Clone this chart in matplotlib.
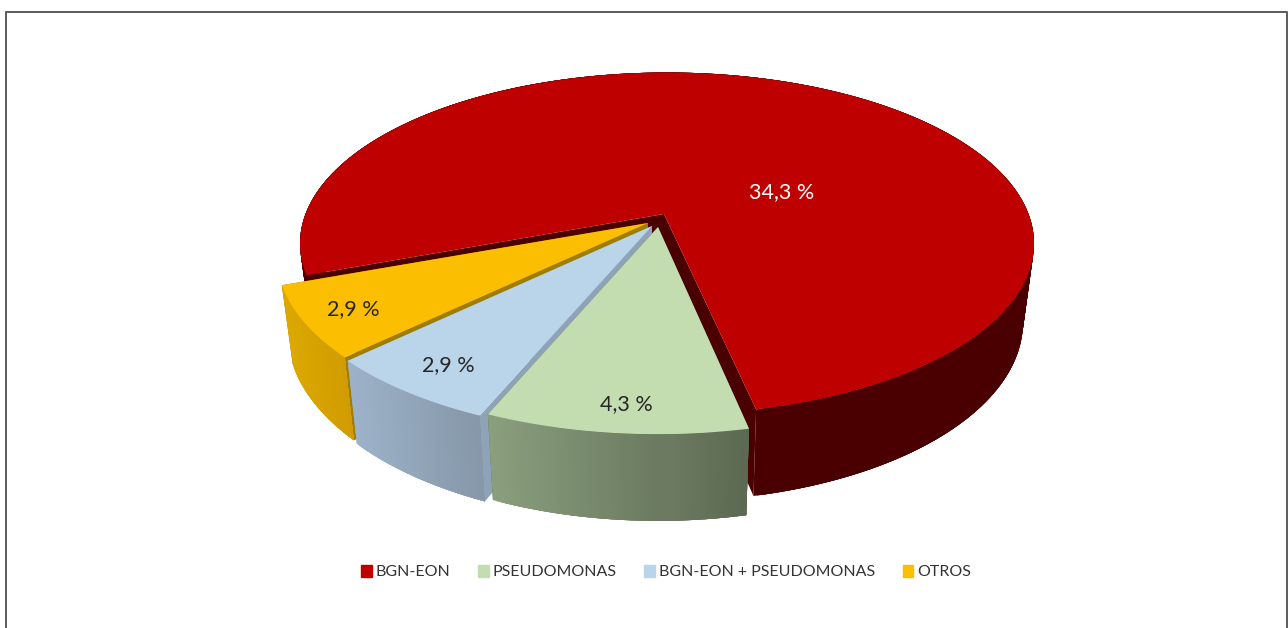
import numpy as np
import matplotlib
matplotlib.use('Agg')
import matplotlib.pyplot as plt
from matplotlib.patches import Rectangle

plt.rcParams['font.family'] = ['Lato', 'DejaVu Sans']

nombres = ['BGN-EON', 'PSEUDOMONAS', 'BGN-EON + PSEUDOMONAS', 'OTROS']
valores = [34.3, 4.3, 2.9, 2.9]
etiquetas = ['34,3 %', '4,3 %', '2,9 %', '2,9 %']

col_top = ['#BE0000', '#C4DDB0', '#BAD4EA', '#FCBE00']
col_corte = ['#4A0000', '#5A6650', '#8FA3B8', '#A07C00']
col_izq = ['#4A0000', '#8A9F7E', '#9DB2C9', '#DCA800']
col_der = ['#4A0000', '#5A6650', '#8597A8', '#D09C00']

# centro de cada arco y punta de cada porcion (px), las porciones estan separadas
vertices = [(667, 215), (658, 227), (652, 226), (648, 223)]
puntas = [(664, 214), (658, 227), (652, 226), (648, 223)]
pos_etiq = [(782, 192), (626, 404), (448, 365), (353, 309)]
col_etiq = ['white', '#262626', '#262626', '#262626']

# perspectiva por porcion
dist = [6.0, 5.5, 5.5, 5.5]
alto = [464, 418, 418, 418]
radio = [1.0, 1.005, 1.015, 1.012]
enc = 0.97
inicio = 290.0
semi_x = 367
semi_y = 142.5


def arriba(i, phi):
    d = dist[i]
    A = semi_x * np.sqrt(d * d - 1)
    B = semi_y * (d + 1)
    X, Y = radio[i] * np.sin(np.radians(phi)), radio[i] * np.cos(np.radians(phi))
    v = vertices[i]
    return v[0] + A * X / (d - Y), v[1] + B * Y / (d - Y)


def abajo(i, phi):
    d = dist[i]
    A = semi_x * np.sqrt(d * d - 1)
    B = semi_y * (d + 1)
    X, Y = radio[i] * np.sin(np.radians(phi)), radio[i] * np.cos(np.radians(phi))
    v = vertices[i]
    return (v[0] + enc * A * X / (d - Y),
            v[1] + enc * B * Y / (d - Y) + alto[i] / (d - Y))


def mezcla(c1, c2, t):
    a = np.array(matplotlib.colors.to_rgb(c1))
    b = np.array(matplotlib.colors.to_rgb(c2))
    return tuple(a + (b - a) * t)


fig = plt.figure(figsize=(12.88, 6.28), dpi=100)
ax = fig.add_axes([0, 0, 1, 1])
ax.set_xlim(0, 1288)
ax.set_ylim(628, 0)
ax.axis('off')

# marco
ax.plot([6, 6, 1287, 1287], [628, 12, 12, 628], color='#5a5a5a', lw=1.4)

grados = np.array(valores) / sum(valores) * 360
fin = inicio - np.cumsum(grados)
ini = np.r_[inicio, fin[:-1]]

# orden de pintado: rojo, amarillo, azul, verde
for i in [0, 3, 2, 1]:
    v = puntas[i]
    a0, a1 = fin[i], ini[i]
    vb = (v[0], v[1] + alto[i] / dist[i])

    # caras de corte
    for phi in [a0, a1]:
        p, q = arriba(i, phi), abajo(i, phi)
        ax.fill([v[0], p[0], q[0], vb[0]], [v[1], p[1], q[1], vb[1]],
                color=col_corte[i], lw=0)

    # pared curva, con degradado en x; los trozos se solapan para que no queden rayas
    angs = np.r_[np.arange(a0, a1, 0.5), a1]
    angs = angs[np.argsort(np.cos(np.radians(angs)))]
    xs = [arriba(i, a)[0] for a in np.linspace(a0, a1, 200)]
    xmin, xmax = min(xs), max(xs)
    for a in angs:
        b = min(a + 2.0, a1)
        p1, p2 = arriba(i, a), arriba(i, b)
        q1, q2 = abajo(i, a), abajo(i, b)
        t = (p1[0] - xmin) / (xmax - xmin)
        c = mezcla(col_izq[i], col_der[i], t)
        ax.fill([p1[0], p2[0], q2[0], q1[0]], [p1[1], p2[1], q2[1], q1[1]],
                color=c, lw=0)

    # cara superior
    arco = np.linspace(a0, a1, 400)
    px, py = arriba(i, arco)
    ax.fill(np.r_[v[0], px], np.r_[v[1], py], color=col_top[i], lw=0)

for i in range(len(valores)):
    ax.text(pos_etiq[i][0], pos_etiq[i][1], etiquetas[i], color=col_etiq[i],
            fontsize=15.5, ha='center', va='center')

handles = [Rectangle((0, 0), 1, 1, color=c) for c in col_top]
ax.legend(handles, nombres, ncol=4, loc='center', bbox_to_anchor=(666 / 1288, 1 - 572 / 628),
          frameon=False, fontsize=11.5, labelcolor='#333333',
          handlelength=0.68, handleheight=0.8, handletextpad=0.25, columnspacing=1.72)

fig.savefig('out.png', dpi=100)
